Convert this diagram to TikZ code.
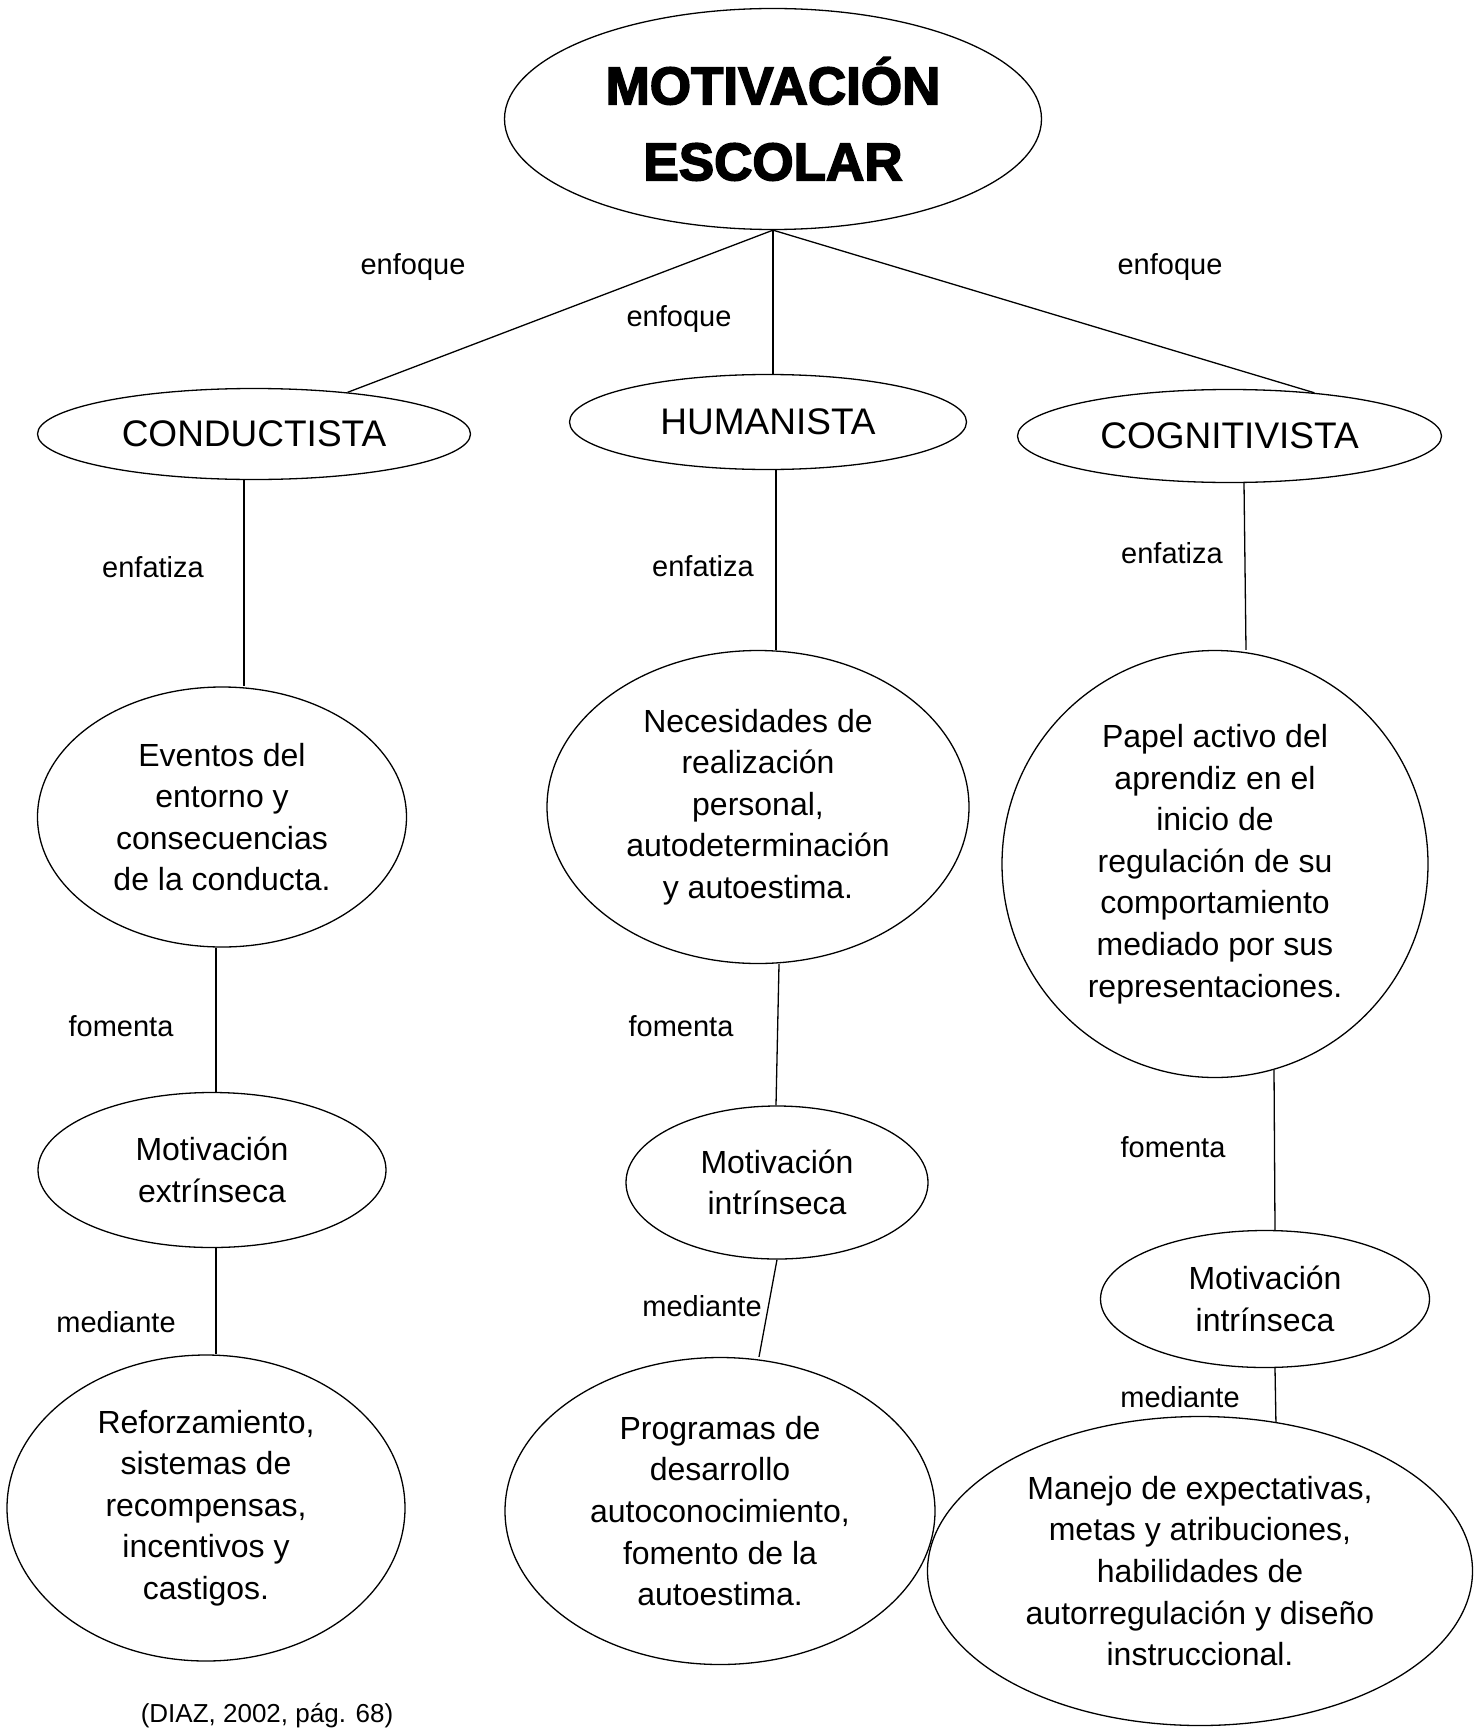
\documentclass[tikz,border=0pt]{standalone}
\usepackage{fontspec}
\setmainfont{Liberation Sans}
\newfontfamily\titlefont{Liberation Sans Bold}[FakeBold=3]
\usetikzlibrary{shapes.geometric}
\tikzset{
  ell/.style={draw, ellipse, line width=1.3pt, inner sep=0pt, align=center},
  lnk/.style={line width=1.3pt},
  lab/.style={font=\fontsize{29}{35}\selectfont},
  body/.style={font=\fontsize{32}{41.6}\selectfont},
  head/.style={font=\fontsize{37}{44}\selectfont},
  ttl/.style={font=\titlefont\fontsize{53}{76}\selectfont},
}
\begin{document}
\begin{tikzpicture}[x=1pt,y=-1pt]
\useasboundingbox (0,0) rectangle (1480,1731);
% nodes
\node[ell,ttl,minimum width=537pt,minimum height=221pt] (top) at (773,119) {MOTIVACIÓN\\ESCOLAR};
\node[ell,head,minimum width=433pt,minimum height=91pt] (cond) at (254,434) {CONDUCTISTA};
\node[ell,head,minimum width=397pt,minimum height=95pt] (hum) at (768,422) {HUMANISTA};
\node[ell,head,minimum width=424pt,minimum height=93pt] (cog) at (1229.5,436) {COGNITIVISTA};
\node[ell,body,minimum width=369pt,minimum height=260pt] (ev) at (222,817) {Eventos del\\entorno y\\consecuencias\\de la conducta.};
\node[ell,body,minimum width=422pt,minimum height=313pt] (nec) at (758,807) {Necesidades de\\realización\\personal,\\autodeterminación\\y autoestima.};
\node[ell,body,minimum width=426pt,minimum height=427pt] (pap) at (1215,864) {Papel activo del\\aprendiz en el\\inicio de\\regulación de su\\comportamiento\\mediado por sus\\representaciones.};
\node[ell,body,minimum width=348pt,minimum height=155pt] (mext) at (212,1170) {Motivación\\extrínseca};
\node[ell,body,minimum width=302pt,minimum height=153pt] (mint1) at (777,1182.5) {Motivación\\intrínseca};
\node[ell,body,minimum width=329pt,minimum height=137pt] (mint2) at (1265,1299) {Motivación\\intrínseca};
\node[ell,body,minimum width=398pt,minimum height=306pt] (ref) at (206,1508) {Reforzamiento,\\sistemas de\\recompensas,\\incentivos y\\castigos.};
\node[ell,body,minimum width=430pt,minimum height=307pt] (prog) at (720,1511) {Programas de\\desarrollo\\autoconocimiento,\\fomento de la\\autoestima.};
\node[ell,body,minimum width=545pt,minimum height=309pt] (man) at (1200,1571) {Manejo de expectativas,\\metas y atribuciones,\\habilidades de\\autorregulación y diseño\\instruccional.};
% labels
\node[lab] (l1) at (413,267) {enfoque};
\node[lab] (l2) at (679,319) {enfoque};
\node[lab] (l3) at (1170,267) {enfoque};
\node[lab] (l4) at (153,567) {enfatiza};
\node[lab] (l5) at (703,566) {enfatiza};
\node[lab] (l6) at (1172,553) {enfatiza};
\node[lab] (l7) at (121,1026) {fomenta};
\node[lab] (l8) at (681,1026) {fomenta};
\node[lab] (l9) at (1173,1147) {fomenta};
\node[lab] (l10) at (116,1322) {mediante};
\node[lab] (l11) at (702,1306) {mediante};
\node[lab] (l12) at (1180,1397) {mediante};
\node[font=\fontsize{26}{31}\selectfont,anchor=base,inner sep=0pt] (cite) at (267,1722) {(DIAZ, 2002, pág. 68)};
% connectors
\draw[lnk] (top.south) -- (cond.24);
\draw[lnk] (top.south) -- (top.south |- hum.north);
\draw[lnk] (top.south) -- (cog.27);
\draw[lnk] ([xshift=-10pt]cond.south) -- ([xshift=22pt]ev.north);
\draw[lnk] ([xshift=8pt]hum.south) -- ([xshift=18pt]nec.north);
\draw[lnk] ([xshift=14.5pt]cog.south) -- ([xshift=31pt]pap.north);
\draw[lnk] ([xshift=-6pt]ev.south) -- ([xshift=4pt]mext.north);
\draw[lnk] ([xshift=21pt]nec.south) -- ([xshift=-1pt]mint1.north);
\draw[lnk] (pap.-74.5) -- ([xshift=10pt]mint2.north);
\draw[lnk] ([xshift=4pt]mext.south) -- ([xshift=10pt]ref.north);
\draw[lnk] (mint1.south) -- ([xshift=39pt]prog.north);
\draw[lnk] ([xshift=10pt]mint2.south) -- (man.63);
\end{tikzpicture}
\end{document}
